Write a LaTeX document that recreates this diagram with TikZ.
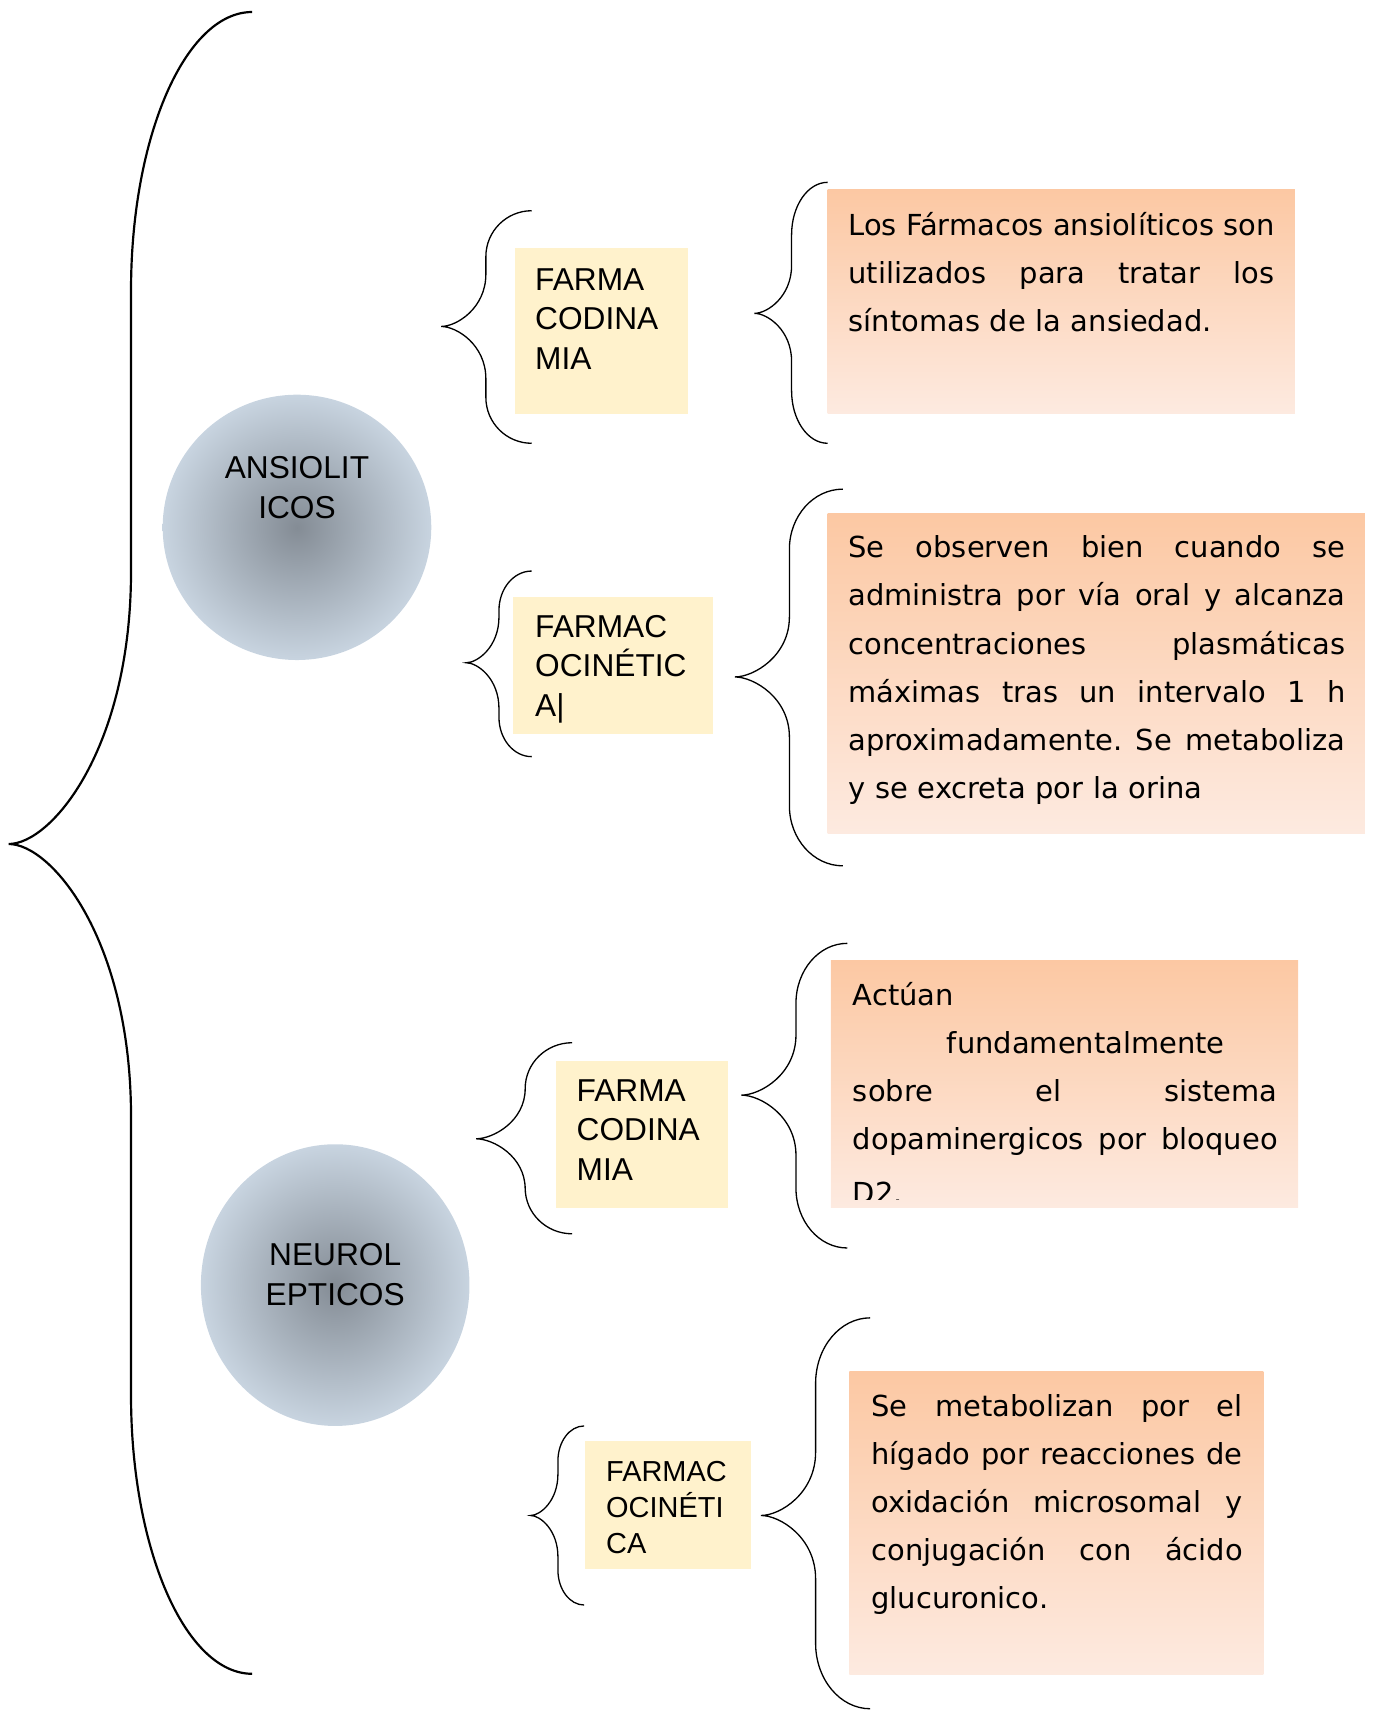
\documentclass[tikz,border=0pt]{standalone}
\usepackage{fontspec}
\setmainfont{Liberation Sans}
\newfontfamily\comicfont{DejaVu Sans}
\usetikzlibrary{shapes.geometric}
\definecolor{ylw}{HTML}{FFF2CC}
\definecolor{ptop}{HTML}{FCC8A3}
\definecolor{pbot}{HTML}{FDEAE0}
\definecolor{cin}{HTML}{848C95}
\definecolor{cout}{HTML}{C8D4E0}
\tikzset{
  bigbrace/.style={draw=black, line width=2pt},
  smallbrace/.style={draw=black, line width=1.2pt},
  ybox/.style={rectangle, fill=ylw, draw=none, inner sep=0pt, outer sep=0pt, anchor=north west},
  pbox/.style={rectangle, top color=ptop, bottom color=pbot, draw=none, inner sep=0pt, outer sep=0pt, anchor=north west},
  circ/.style={ellipse, shading=radial, inner color=cin, outer color=cout, draw=none, inner sep=0pt},
  lbl/.style={font=\fontsize{29}{36}\selectfont, align=left, text width=220pt, inner sep=0pt, anchor=base west},
  lblsm/.style={font=\fontsize{26.5}{33}\selectfont, align=left, text width=200pt, inner sep=0pt, anchor=base west},
  ctxt/.style={font=\fontsize{29}{37}\selectfont, align=center, text width=240pt, inner sep=0pt, anchor=base},
  ptxt/.style={font=\comicfont\fontsize{26.5}{44}\selectfont, align=left, inner sep=0pt, anchor=base west}
}
% justified line of a given width (pt)
\newcommand\jl[2]{\leavevmode\hbox to #1pt{\spaceskip=.26em plus 1fil\xspaceskip=.26em plus 1fil\relax #2}}
% curly brace: style xe xv xt yt ym yb hc hm
\newcommand\bracepath[9]{%
  \draw[#1] (#2,#5) .. controls ({#3+0.448*(#2-#3)},#5) and (#3,{#5+0.448*#8}) .. (#3,{#5+#8})
    -- (#3,{#6-#9}) .. controls (#3,{#6-0.35*#9}) and ({#4+0.35*(#3-#4)},#6) .. (#4,#6)
    .. controls ({#4+0.35*(#3-#4)},#6) and (#3,{#6+0.35*#9}) .. (#3,{#6+#9})
    -- (#3,{#7-#8}) .. controls (#3,{#7-0.448*#8}) and ({#3+0.448*(#2-#3)},#7) .. (#2,#7);}
\begin{document}
\begin{tikzpicture}[x=1pt, y=-1pt]
\useasboundingbox (0,0) rectangle (1262,1568);

% main brace
\bracepath{bigbrace}{231}{120}{8}{11}{773}{1533}{255}{250}

% circles
\node[circ, minimum width=246pt, minimum height=243pt] (c1) at (272,483) {};
\node[ctxt] (c1t) at (272,438) {ANSIOLIT\\ICOS};
\node[circ, minimum width=246pt, minimum height=258pt] (c2) at (307,1177) {};
\node[ctxt] (c2t) at (307,1159) {NEUROL\\EPTICOS};

% second level braces
\bracepath{smallbrace}{487}{445}{404}{193}{299}{406}{42}{48}
\bracepath{smallbrace}{487}{457}{427}{523}{607}{693}{36}{42}
\bracepath{smallbrace}{524}{481}{436}{955}{1043}{1130}{42}{46}
\bracepath{smallbrace}{535}{511}{486}{1306}{1388}{1470}{32}{38}

% yellow boxes
\node[ybox, minimum width=158pt, minimum height=152pt] (y1) at (472,227) {};
\node[lbl] (y1t) at (490,266) {FARMA\\CODINA\\MIA};
\node[ybox, minimum width=183pt, minimum height=125pt] (y2) at (470,547) {};
\node[lbl] (y2t) at (490,584) {FARMAC\\OCINÉTIC\\A|};
\node[ybox, minimum width=158pt, minimum height=134pt] (y3) at (509,972) {};
\node[lbl] (y3t) at (528,1009) {FARMA\\CODINA\\MIA};
\node[ybox, minimum width=152pt, minimum height=117pt] (y4) at (536,1320) {};
\node[lblsm] (y4t) at (555,1357) {FARMAC\\OCINÉTI\\CA};

% third level braces
\bracepath{smallbrace}{758}{725}{691}{167}{287}{406}{48}{44}
\bracepath{smallbrace}{772}{723}{673}{448}{620}{793}{55}{55}
\bracepath{smallbrace}{776}{729}{679}{864}{1003}{1143}{55}{55}
\bracepath{smallbrace}{797}{747}{697}{1207}{1388}{1565}{60}{58}

% peach boxes
\node[pbox, minimum width=428pt, minimum height=205pt] (pa) at (758,174) {};
\node[ptxt, text width=390pt] (pat) at (777,216) {\jl{390}{Los Fármacos ansiolíticos son}\\
\jl{390}{utilizados para tratar los}\\
síntomas de la ansiedad.};

\node[pbox, minimum width=492pt, minimum height=293pt] (pb) at (758,470) {};
\node[ptxt, text width=455pt] (pbt) at (777,511) {\jl{455}{Se observen bien cuando se}\\
\jl{455}{administra por vía oral y alcanza}\\
\jl{455}{concentraciones plasmáticas}\\
\jl{455}{máximas tras un intervalo 1 h}\\
\jl{455}{aproximadamente. Se metaboliza}\\
y se excreta por la orina};

\node[pbox, minimum width=428pt, minimum height=226pt] (pc) at (761,880) {};
\begin{scope}
\clip (761,880) rectangle (1189,1099);
\node[ptxt, text width=389pt] (pct) at (781,921) {Actúan\\
\hspace*{86pt}fundamentalmente\\
\jl{389}{sobre el sistema}\\
\jl{389}{dopaminergicos por bloqueo}\\[5.5pt]
D2.};
\end{scope}

\node[pbox, minimum width=379pt, minimum height=278pt] (pd) at (778,1256) {};
\node[ptxt, text width=340pt] (pdt) at (798,1297) {\jl{340}{Se metabolizan por el}\\
\jl{340}{hígado por reacciones de}\\
\jl{340}{oxidación microsomal y}\\
\jl{340}{conjugación con ácido}\\
glucuronico.};
\end{tikzpicture}
\end{document}
